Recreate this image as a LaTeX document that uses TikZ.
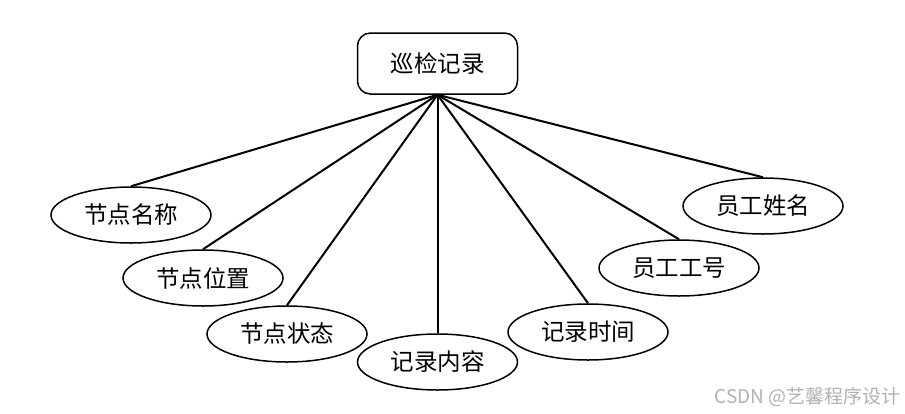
\documentclass[tikz,border=0pt]{standalone}
\usepackage{fontspec}
\setmainfont{Noto Sans CJK SC}
\newfontfamily\cjk{Noto Sans CJK SC}
\usetikzlibrary{shapes.geometric}
\begin{document}
\begin{tikzpicture}[x=1pt,y=-1pt,
  attr/.style={ellipse,draw=black,line width=1.5pt,minimum width=160pt,minimum height=56pt,inner sep=0pt,font=\cjk\fontsize{23.5}{23.5}\selectfont},
  entity/.style={rectangle,rounded corners=13pt,draw=black,line width=1.5pt,minimum width=160pt,minimum height=61pt,inner sep=0pt,font=\cjk\fontsize{23.5}{23.5}\selectfont},
  link/.style={line width=2pt,black}]
\useasboundingbox[fill=white] (0,0) rectangle (905,413);
\node[entity] (top) at (437.5,63.5) {巡检记录};
\node[attr] (a1) at (131,215) {节点名称};
\node[attr] (a2) at (203,278) {节点位置};
\node[attr] (a3) at (287,334) {节点状态};
\node[attr] (a4) at (437.5,362) {记录内容};
\node[attr] (a5) at (588,332) {记录时间};
\node[attr] (a6) at (679,268) {员工工号};
\node[attr] (a7) at (763,206) {员工姓名};
\foreach \n in {a1,a2,a3,a4,a5,a6,a7}
  \draw[link] (top.south) -- (\n.north);
\node[anchor=east,text=black!30,font=\cjk\fontsize{19}{19}\selectfont,inner sep=0pt] (wm) at (901,397) {CSDN @艺馨程序设计};
\end{tikzpicture}
\end{document}
